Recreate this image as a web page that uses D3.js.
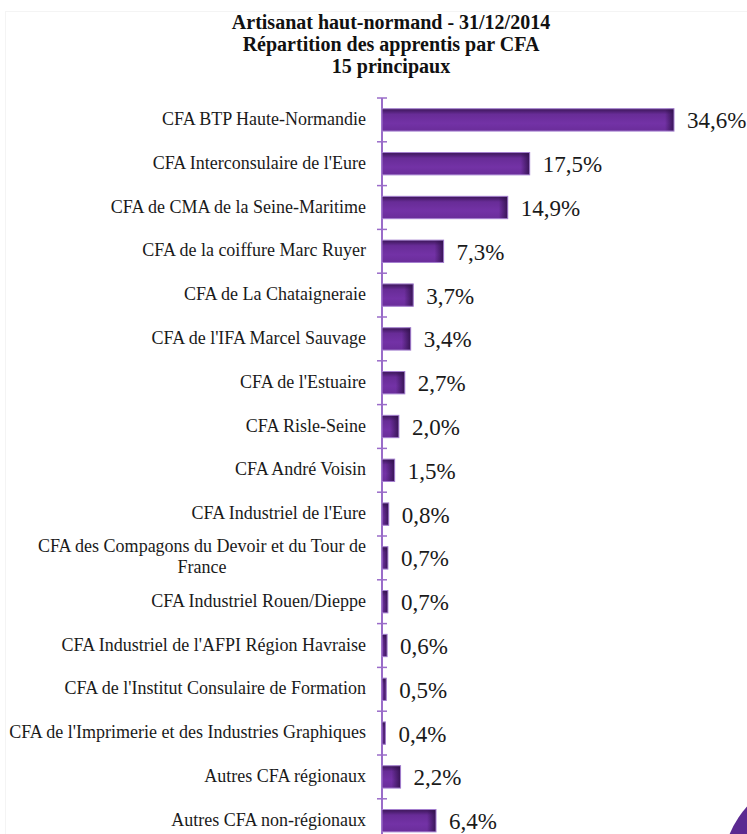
<!DOCTYPE html>
<html>
<head>
<meta charset="utf-8">
<script src="https://cdn.jsdelivr.net/npm/d3@7"></script>
<style>
  body { margin: 0; background: #fff; }
  svg { display: block; }
</style>
</head>
<body>
<div id="chart"></div>
<script>
// data
var titleLines = ["Artisanat haut-normand - 31/12/2014", "Répartition des apprentis par CFA", "15 principaux"];
var categories = [
    "CFA BTP Haute-Normandie",
    "CFA Interconsulaire de l'Eure",
    "CFA de CMA de la Seine-Maritime",
    "CFA de la coiffure Marc Ruyer",
    "CFA de La Chataigneraie",
    "CFA de l'IFA Marcel Sauvage",
    "CFA de l'Estuaire",
    "CFA Risle-Seine",
    "CFA André Voisin",
    "CFA Industriel de l'Eure",
    "CFA des Compagons du Devoir et du Tour de|France",
    "CFA Industriel Rouen/Dieppe",
    "CFA Industriel de l'AFPI Région Havraise",
    "CFA de l'Institut Consulaire de Formation",
    "CFA de l'Imprimerie et des Industries Graphiques",
    "Autres CFA régionaux",
    "Autres CFA non-régionaux"
];
var shares = [34.6, 17.5, 14.9, 7.3, 3.7, 3.4, 2.7, 2.0, 1.5, 0.8, 0.7, 0.7, 0.6, 0.5, 0.4, 2.2, 6.4];

var width = 747,
    height = 834;
var serif = '"Liberation Serif", "Times New Roman", serif';

var svg = d3.select("#chart").append("svg")
    .attr("width", width)
    .attr("height", height);

var defs = svg.append("defs");

// vertical shading of bars
var vg = defs.append("linearGradient").attr("id", "barV")
    .attr("x1", 0).attr("y1", 0).attr("x2", 0).attr("y2", 1);
vg.append("stop").attr("offset", "0%").attr("stop-color", "#3b1658");
vg.append("stop").attr("offset", "25%").attr("stop-color", "#682c97");
vg.append("stop").attr("offset", "65%").attr("stop-color", "#7332a6");
vg.append("stop").attr("offset", "100%").attr("stop-color", "#6a2d9a");

// dark right edge
var hg = defs.append("linearGradient").attr("id", "barH")
    .attr("x1", 0).attr("y1", 0).attr("x2", 1).attr("y2", 0);
hg.append("stop").attr("offset", "0%").attr("stop-color", "#2e0f48").attr("stop-opacity", 0);
hg.append("stop").attr("offset", "100%").attr("stop-color", "#2e0f48").attr("stop-opacity", 0.85);

// faint frame
svg.append("rect")
    .attr("x", 5.5).attr("y", 11.5)
    .attr("width", width).attr("height", height)
    .attr("fill", "none")
    .attr("stroke", "#f4f4f4");

// title
svg.append("g").selectAll("text")
    .data(titleLines)
    .enter().append("text")
    .attr("x", 391)
    .attr("y", function(d, i) { return 29 + i * 22; })
    .attr("text-anchor", "middle")
    .style("font-family", serif)
    .style("font-weight", "bold")
    .style("font-size", "20px")
    .style("fill", "#111")
    .text(function(d) { return d; });

var x = d3.scaleLinear()
    .domain([0, 34.6])
    .range([382, 674]);

var y = d3.scaleBand()
    .domain(categories)
    .range([98, 98 + 43.8 * categories.length])
    .paddingInner(0.49)
    .paddingOuter(0.245);

// axis with ticks between categories
var axisG = svg.append("g");
axisG.append("line")
    .attr("x1", 382).attr("x2", 382)
    .attr("y1", y.range()[0]).attr("y2", y.range()[1])
    .attr("stroke", "#9a6cc9")
    .attr("stroke-width", 2);
var step = y.step();
axisG.selectAll("line.tick")
    .data(d3.range(categories.length + 1))
    .enter().append("line")
    .attr("class", "tick")
    .attr("x1", 377).attr("x2", 387)
    .attr("y1", function(d) { return 98 + d * step; })
    .attr("y2", function(d) { return 98 + d * step; })
    .attr("stroke", "#9a6cc9")
    .attr("stroke-width", 1.5);

// bars
var bars = svg.append("g").selectAll("g")
    .data(categories)
    .enter().append("g");

bars.append("rect")
    .attr("x", x(0))
    .attr("y", function(d) { return y(d); })
    .attr("width", function(d, i) { return x(shares[i]) - x(0); })
    .attr("height", y.bandwidth())
    .attr("fill", "url(#barV)");

bars.append("rect")
    .attr("x", function(d, i) { return Math.max(x(0), x(shares[i]) - 9); })
    .attr("y", function(d) { return y(d); })
    .attr("width", function(d, i) { return Math.min(9, x(shares[i]) - x(0)); })
    .attr("height", y.bandwidth())
    .attr("fill", "url(#barH)");

bars.append("rect")
    .attr("x", x(0))
    .attr("y", function(d) { return y(d); })
    .attr("width", function(d, i) { return x(shares[i]) - x(0); })
    .attr("height", y.bandwidth())
    .attr("fill", "none")
    .attr("stroke", "#a47fcf")
    .attr("stroke-width", 1);

// value labels
bars.append("text")
    .attr("x", function(d, i) { return x(shares[i]) + 13; })
    .attr("y", function(d) { return y(d) + y.bandwidth() / 2 + 8.5; })
    .style("font-family", serif)
    .style("font-size", "23px")
    .style("fill", "#1a1a1a")
    .text(function(d, i) { return shares[i].toFixed(1).replace(".", ",") + "%"; });

// category labels (right aligned, wrapped lines centred on each other)
var labels = svg.append("g").selectAll("text")
    .data(categories)
    .enter().append("text")
    .style("font-family", serif)
    .style("font-size", "18px")
    .style("fill", "#1a1a1a");

labels.each(function(d) {
    var lines = d.split("|");
    var t = d3.select(this);
    var cy = y(d) + y.bandwidth() / 2;
    if (lines.length == 1) {
        t.attr("x", 366).attr("y", cy + 5).attr("text-anchor", "end").text(lines[0]);
    } else {
        t.attr("text-anchor", "middle");
        var tmp = t.append("tspan").text(lines[0]);
        var w = tmp.node().getComputedTextLength();
        tmp.remove();
        var mid = 366 - w / 2;
        lines.forEach(function(l, k) {
            t.append("tspan")
                .attr("x", mid)
                .attr("y", cy - 6 + k * 21)
                .text(l);
        });
    }
});

// purple disc in the corner
svg.append("circle")
    .attr("cx", 820).attr("cy", 872)
    .attr("r", 98)
    .attr("fill", "#5b2a91");
</script>
</body>
</html>
